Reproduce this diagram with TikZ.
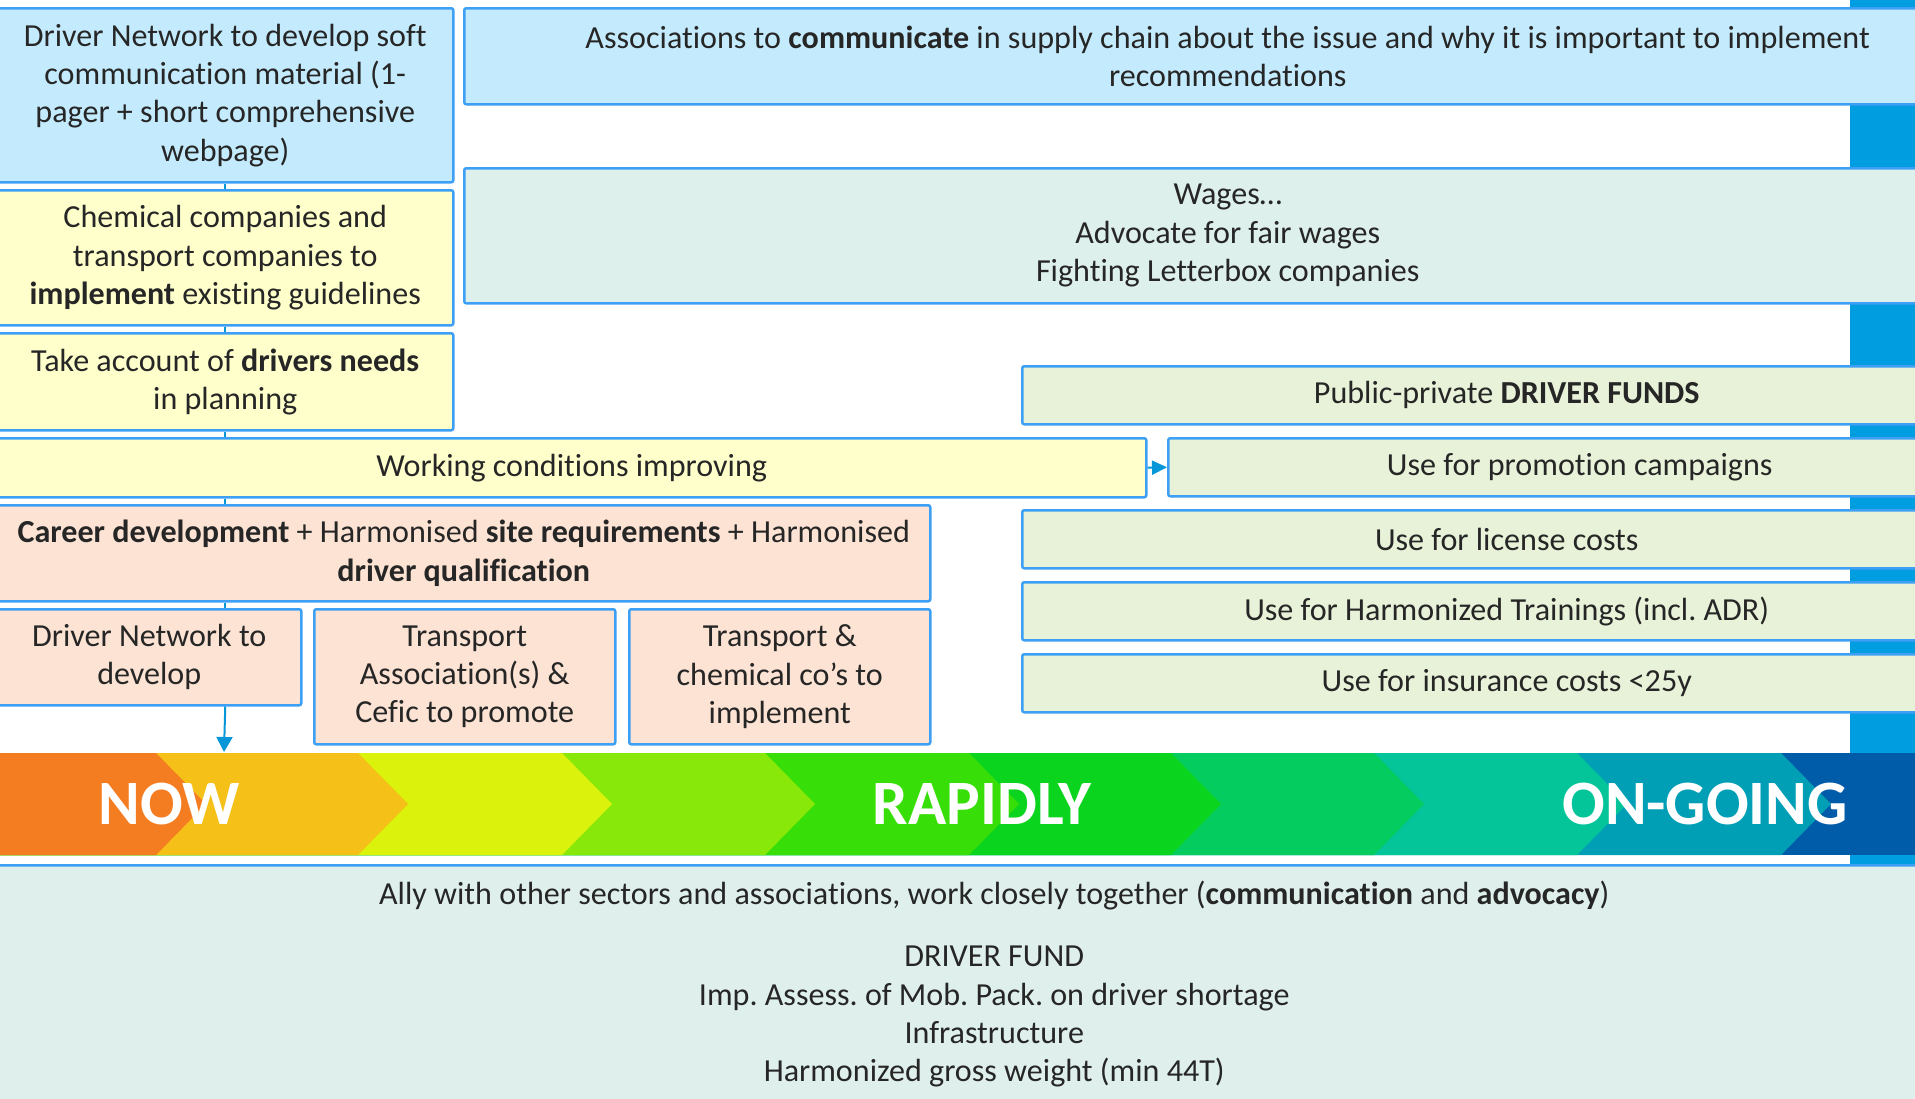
\documentclass[tikz,border=0pt]{standalone}
\usepackage{fontspec}
\setmainfont{Carlito}[Ligatures=NoCommon]
\frenchspacing
\usetikzlibrary{arrows.meta}
\definecolor{bordc}{HTML}{3DA0F5}
\definecolor{barblue}{HTML}{009DE0}
\definecolor{connc}{HTML}{0797D8}
\definecolor{txt}{HTML}{262626}
\definecolor{fblue}{HTML}{C4EBFD}
\definecolor{fyellow}{HTML}{FFFFCC}
\definecolor{fwage}{HTML}{DEF0EC}
\definecolor{fgreen}{HTML}{E7F2D8}
\definecolor{fpeach}{HTML}{FCE3D3}
\definecolor{fbottom}{HTML}{DFF0EC}
\definecolor{c1}{HTML}{F47D22}
\definecolor{c2}{HTML}{F5C018}
\definecolor{c3}{HTML}{DAF20C}
\definecolor{c4}{HTML}{88E80A}
\definecolor{c5}{HTML}{38DE08}
\definecolor{c6}{HTML}{0AD41E}
\definecolor{c7}{HTML}{04CC5E}
\definecolor{c8}{HTML}{04C49A}
\definecolor{c9}{HTML}{009FB5}
\definecolor{c10}{HTML}{005BA8}
\tikzset{
  box/.style={draw=bordc, line width=1.25pt, rounded corners=1pt, inner sep=0pt,
    align=center, anchor=north west, text=txt,
    font=\fontsize{16.05}{19.15}\selectfont\frenchspacing},
  conn/.style={draw=connc, line width=1pt},
  bandtxt/.style={text=white, font=\fontsize{31.6}{31.6}\selectfont\bfseries, inner sep=0pt},
}
\begin{document}
\begin{tikzpicture}[x=0.5pt,y=-0.5pt]
\useasboundingbox (0,0) rectangle (1915,1098);
\clip (0,0) rectangle (1915,1098);
% right blue bar
\fill[barblue] (1850,0) rectangle (1915,865);
% left column
\node[box, fill=fblue, minimum width=228pt, minimum height=87pt] (b1) at (-4,7)
  {Driver Network to develop soft\\communication material (1-\\pager + short comprehensive\\webpage)};
\node[box, fill=fyellow, minimum width=228pt, minimum height=67.5pt] (b2) at (-4,189)
  {Chemical companies and\\transport companies to\\\textbf{implement} existing guidelines};
\node[box, fill=fyellow, minimum width=228pt, minimum height=48.5pt] (b3) at (-4,332)
  {Take account of \textbf{drivers needs}\\in planning};
\node[box, fill=fyellow, minimum width=574.5pt, minimum height=29.5pt] (work) at (-4,437)
  {Working conditions improving};
\node[box, fill=fpeach, minimum width=466.5pt, minimum height=48pt] (career) at (-4,504)
  {\textbf{Career development} + Harmonised \textbf{site requirements} + Harmonised\\\textbf{driver qualification}};
\node[box, fill=fpeach, minimum width=152pt, minimum height=48pt] (dn) at (-4,608)
  {Driver Network to\\develop};
\node[box, fill=fpeach, minimum width=150.5pt, minimum height=67.5pt] (ta) at (313,608)
  {Transport\\Association(s) \&\\Cefic to promote};
\node[box, fill=fpeach, minimum width=150.5pt, minimum height=67.5pt] (tc) at (628,608)
  {Transport \&\\chemical co’s to\\implement};
% right column
\node[box, fill=fblue, minimum width=763.5pt, minimum height=48pt] (assoc) at (463,7)
  {Associations to \textbf{communicate} in supply chain about the issue and why it is important to implement\\recommendations};
\node[box, fill=fwage, minimum width=763.5pt, minimum height=67.5pt] (wages) at (463,167)
  {Wages…\\Advocate for fair wages\\Fighting Letterbox companies};
\node[box, fill=fgreen, minimum width=484.5pt, minimum height=29pt] (ppf) at (1021,365)
  {Public-private \textbf{DRIVER FUNDS}};
\node[box, fill=fgreen, minimum width=411.5pt, minimum height=29pt] (promo) at (1167,437)
  {Use for promotion campaigns};
\node[box, fill=fgreen, minimum width=484.5pt, minimum height=29pt] (lic) at (1021,509)
  {Use for license costs};
\node[box, fill=fgreen, minimum width=484.5pt, minimum height=29pt] (harm) at (1021,581)
  {Use for Harmonized Trainings (incl. ADR)};
\node[box, fill=fgreen, minimum width=484.5pt, minimum height=29pt] (ins) at (1021,653)
  {Use for insurance costs <25y};
% band
\fill[c10] (0,753) rectangle (1915,855);
\foreach \r/\c in {1781/c9,1577/c8,1374/c7,1171/c6,969/c5,765/c4,562/c3,358/c2,156/c1}{
  \fill[\c] (0,753) -- (\r,753) -- (\r+50,804) -- (\r,855) -- (0,855) -- cycle;
}
\node[bandtxt] (now) at (169,804) {NOW};
\node[bandtxt] (rapidly) at (982,804) {RAPIDLY};
\node[bandtxt] (ongoing) at (1705,804) {ON-GOING};
\coordinate (nowtop) at (224,752);
% bottom box
\node[box, fill=fbottom, minimum width=997pt, minimum height=119pt] (bottom) at (-4,864)
  {Ally with other sectors and associations, work closely together (\textbf{communication} and \textbf{advocacy})\\[11.9pt]
   DRIVER FUND\\Imp. Assess. of Mob. Pack. on driver shortage\\Infrastructure\\Harmonized gross weight (min 44T)};
% connectors
\draw[conn] (b1.south) -- (b2.north);
\draw[conn] (b2.south) -- (b3.north);
\draw[conn] (b3.south) -- (b3.south |- work.north);
\draw[conn] (b3.south |- work.south) -- (b3.south |- career.north);
\draw[conn] (b3.south |- career.south) -- (b3.south |- dn.north);
\draw[conn, -{Triangle[length=7.5pt, width=8pt]}] (b3.south |- dn.south) -- (nowtop);
\draw[conn, -{Triangle[length=7.5pt, width=7pt]}] (work.east) -- (promo.west);
\end{tikzpicture}
\end{document}
